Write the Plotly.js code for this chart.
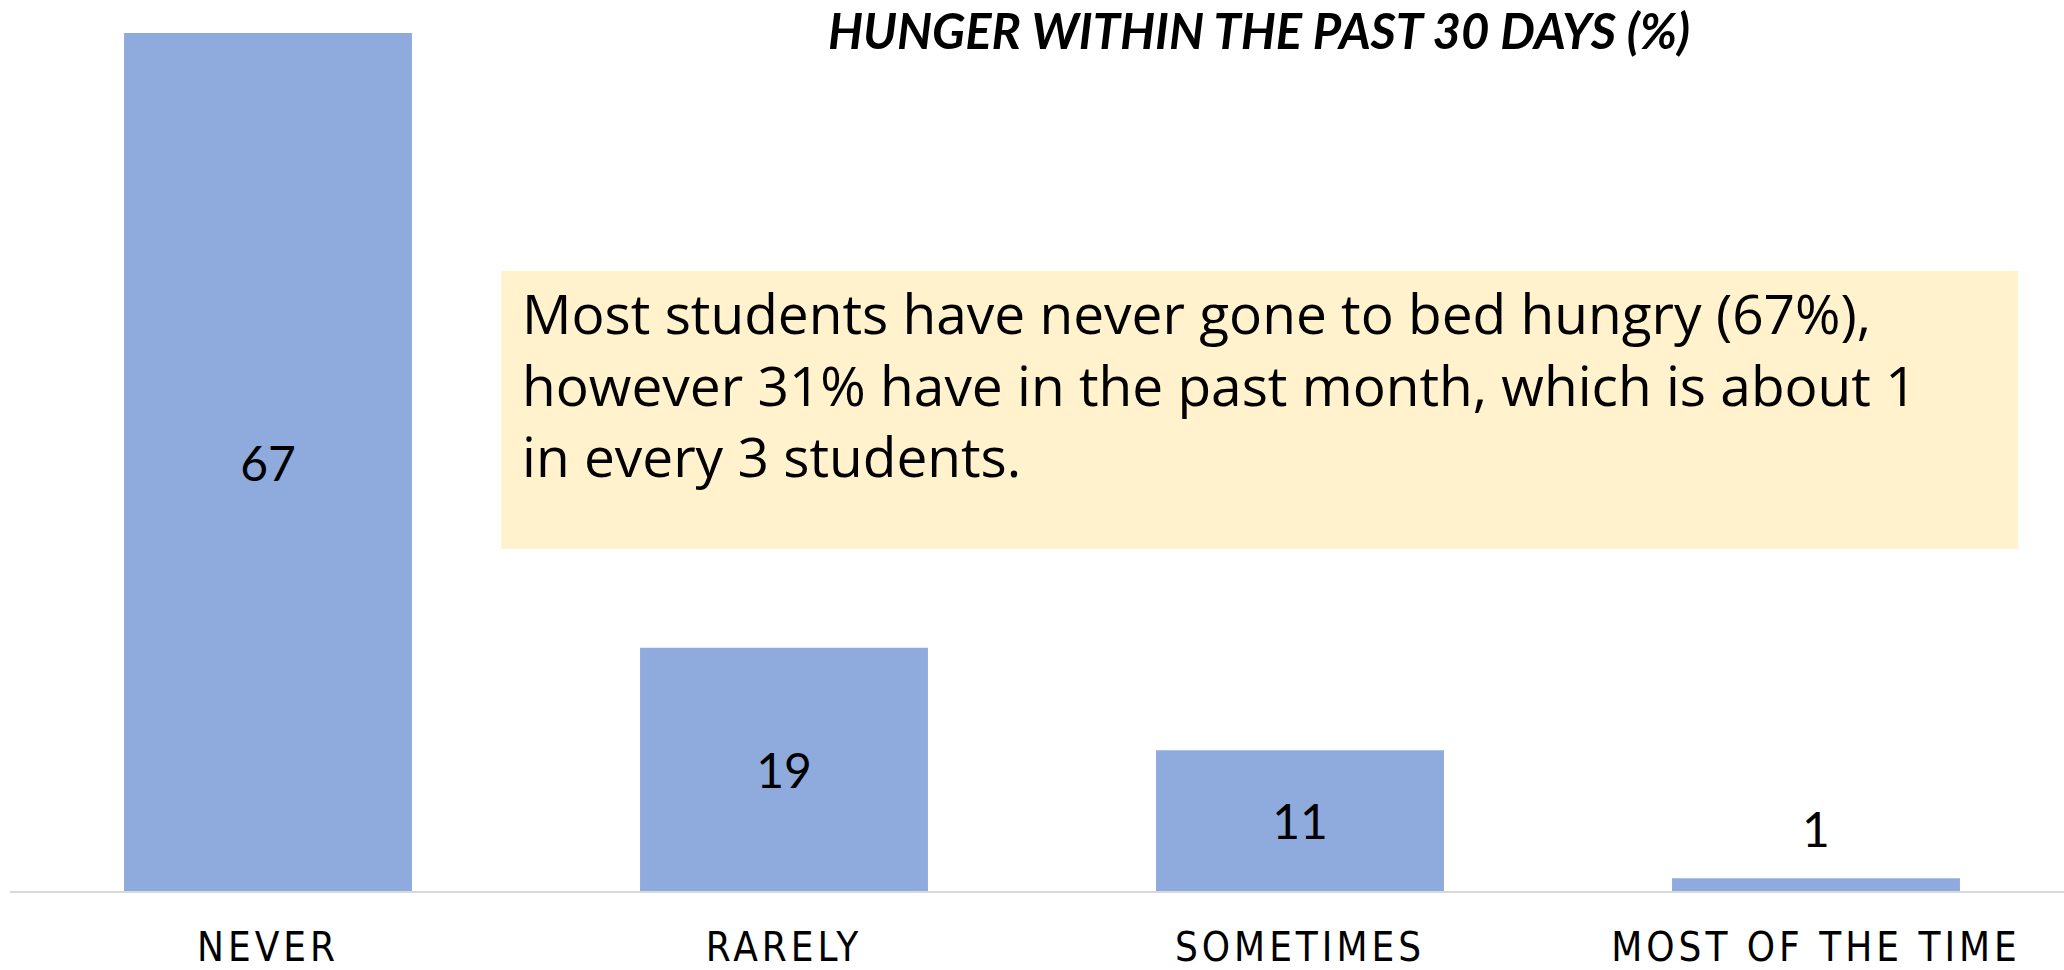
<!DOCTYPE html>
<html>
<head>
<meta charset="utf-8">
<script src="https://cdn.plot.ly/plotly-3.0.1.min.js"></script>
<style>
  html, body { margin: 0; padding: 0; background: #ffffff; }
  #chart { width: 2064px; height: 970px; }
  .xtick text { letter-spacing: 4px; }
</style>
</head>
<body>
<div id="chart"></div>
<script>
// ---- data ----
const categories = ["NEVER", "RARELY", "SOMETIMES", "MOST OF THE TIME"];
const percentages = [67, 19, 11, 1];
const chartTitle = "HUNGER WITHIN THE PAST 30 DAYS (%)";
const noteLines = [
  "Most students have never gone to bed hungry (67%),",
  "however 31% have in the past month, which is about 1",
  "in every 3 students."
];

// ---- styling ----
const barColor = "#8faadc";
const labelFont = { family: "Lato, 'Open Sans', sans-serif", size: 48, color: "#000000" };
const smallThreshold = 5;

const insideText = percentages.map(v => (v >= smallThreshold ? String(v) : ""));

const trace = {
  type: "bar",
  x: categories,
  y: percentages,
  marker: { color: barColor },
  text: insideText,
  textposition: "inside",
  insidetextanchor: "middle",
  textfont: labelFont,
  cliponaxis: false,
  hoverinfo: "skip"
};

// labels for bars too short to hold text, placed above via the data scale
const outsideAnnotations = [];
percentages.forEach((v, i) => {
  if (v < smallThreshold) {
    outsideAnnotations.push({
      x: categories[i], y: v, xref: "x", yref: "y",
      text: String(v), showarrow: false,
      xanchor: "center", yanchor: "bottom", yshift: 19,
      font: labelFont
    });
  }
});

const plotLeft = 10, plotBottom = 891, plotHeight = 891, plotWidth = 2054;
const catSpacing = 516;
const pxPerUnit = (891 - 33) / 67;

const layout = {
  width: 2064,
  height: 970,
  paper_bgcolor: "#ffffff",
  plot_bgcolor: "#ffffff",
  margin: { l: plotLeft, r: 0, t: 0, b: 970 - plotBottom, pad: 0 },
  showlegend: false,
  bargap: 0.442,
  title: {
    text: "<b><i>" + chartTitle + "</i></b>",
    font: { family: "Lato, 'Open Sans', sans-serif", size: 49, color: "#000000", weight: "bold", style: "italic" },
    x: 1259 / 2064, xref: "container", xanchor: "center",
    y: 1 - 32 / 970, yref: "container", yanchor: "middle"
  },
  xaxis: {
    type: "category",
    range: [-0.5, -0.5 + plotWidth / catSpacing],
    showgrid: false,
    zeroline: false,
    showline: true,
    linecolor: "#d9d9d9",
    linewidth: 2,
    ticks: "",
    ticklabelstandoff: 20,
    tickfont: { family: "'Liberation Sans Narrow', 'DejaVu Sans Condensed', sans-serif", size: 40, color: "#000000" },
    fixedrange: true
  },
  yaxis: {
    range: [0, plotHeight / pxPerUnit],
    visible: false,
    showgrid: false,
    zeroline: false,
    fixedrange: true
  },
  shapes: [{
    type: "rect", xref: "paper", yref: "paper", layer: "below",
    x0: (501 - plotLeft) / plotWidth, x1: (2018 - plotLeft) / plotWidth,
    y0: 1 - 549 / plotHeight, y1: 1 - 271 / plotHeight,
    fillcolor: "#fff2cc", line: { width: 0 }
  }],
  annotations: [{
    xref: "paper", yref: "paper",
    x: (520 - plotLeft) / plotWidth, y: 1 - 273 / plotHeight,
    xanchor: "left", yanchor: "top", align: "left",
    showarrow: false,
    text: noteLines.join("<br>"),
    font: { family: "'Open Sans', Lato, sans-serif", size: 55, color: "#000000" }
  }].concat(outsideAnnotations)
};

Plotly.newPlot("chart", [trace], layout, { displayModeBar: false, staticPlot: true });
</script>
</body>
</html>
